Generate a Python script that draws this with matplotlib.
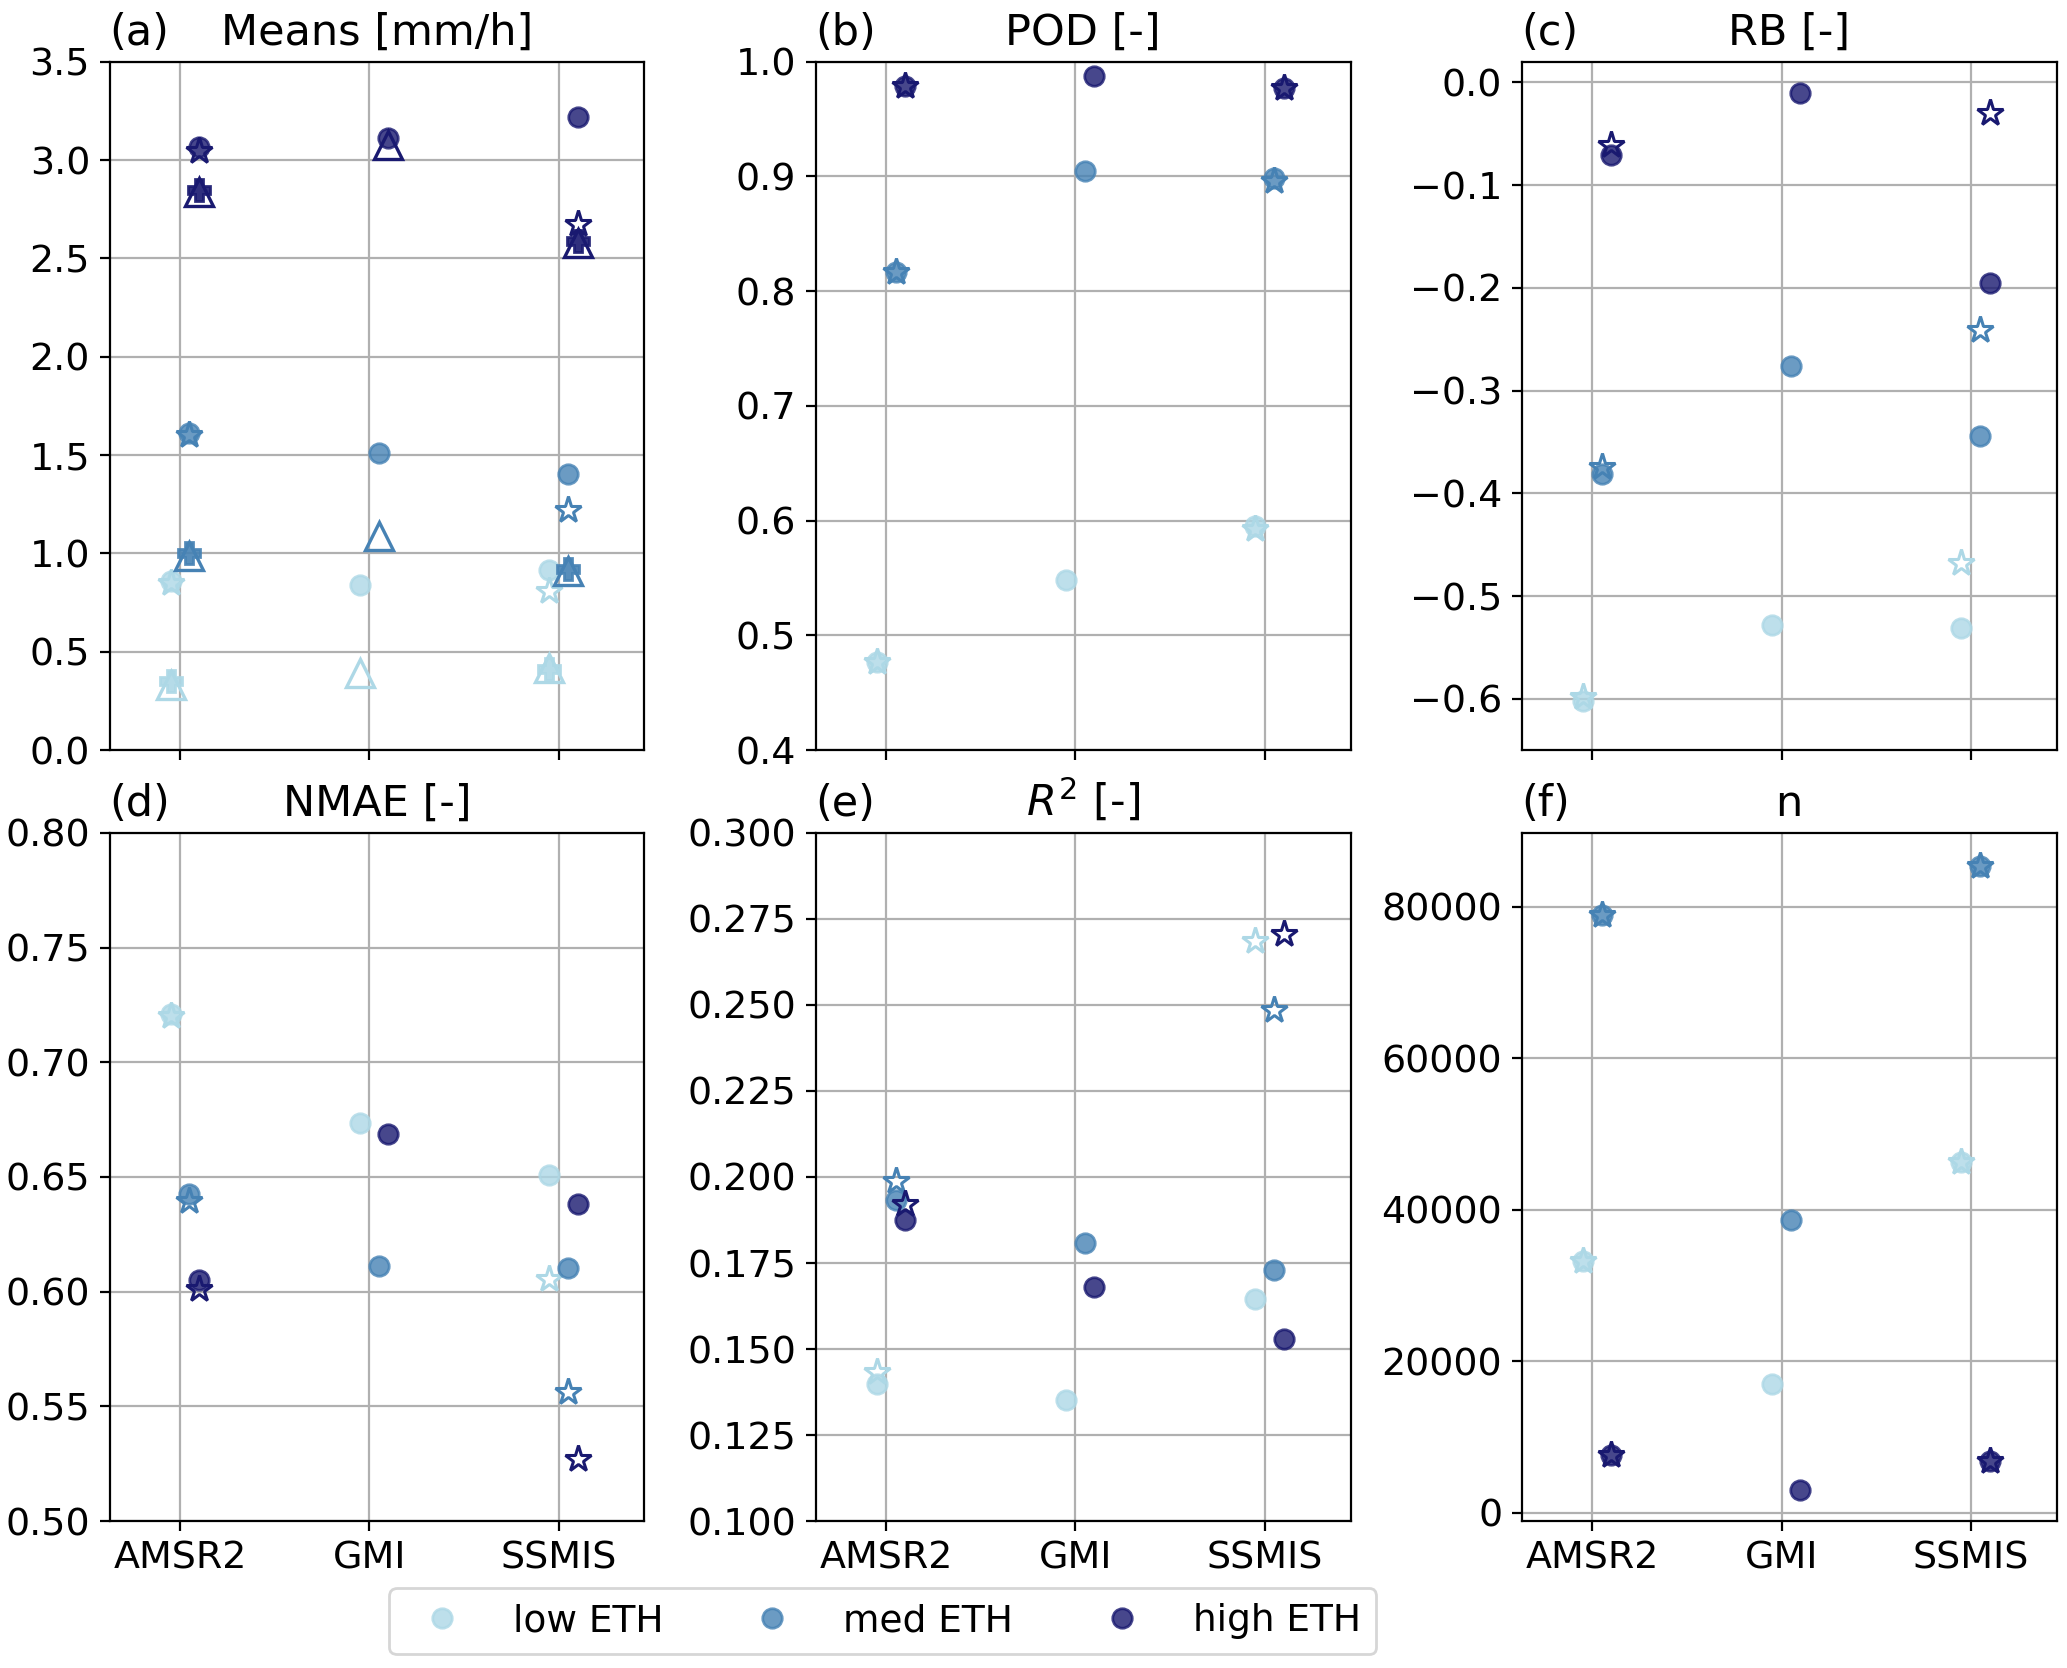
import numpy as np
import matplotlib.pyplot as plt

# sensors and ETH classes
sensors = ["AMSR2", "GMI", "SSMIS"]
eth_classes = ["low ETH", "med ETH", "high ETH"]
colors = ["lightblue", "steelblue", "midnightblue"]
offsets = [-0.05, 0.05, 0.10]

# values per ETH class (rows: low, med, high; cols: AMSR2, GMI, SSMIS)
# circles = product 1, stars = product 2 (no GMI), nan = not available
nan = np.nan
mean_circ = [[0.86, 0.84, 0.917], [1.61, 1.51, 1.405], [3.064, 3.11, 3.22]]
mean_star = [[0.85, nan, 0.81], [1.60, nan, 1.22], [3.046, nan, 2.675]]
mean_ref_circ = [[0.333, 0.39, 0.42], [0.987, 1.09, 0.91], [2.836, 3.077, 2.576]]
mean_ref_star = [[0.35, nan, 0.415], [1.00, nan, 0.92], [2.85, nan, 2.59]]

pod_circ = [[0.477, 0.548, 0.5955], [0.817, 0.9045, 0.899], [0.979, 0.9877, 0.977]]
pod_star = [[0.477, nan, 0.593], [0.817, nan, 0.896], [0.979, nan, 0.977]]

rb_circ = [[-0.602, -0.528, -0.531], [-0.381, -0.276, -0.344], [-0.071, -0.0106, -0.195]]
rb_star = [[-0.598, nan, -0.468], [-0.374, nan, -0.241], [-0.061, nan, -0.030]]

nmae_circ = [[0.721, 0.6737, 0.651], [0.6427, 0.611, 0.6103], [0.605, 0.6686, 0.6383]]
nmae_star = [[0.720, nan, 0.6054], [0.6394, nan, 0.5565], [0.601, nan, 0.5271]]

r2_circ = [[0.1399, 0.1351, 0.1647], [0.1932, 0.1807, 0.1729], [0.1874, 0.1679, 0.1529]]
r2_star = [[0.1433, nan, 0.2687], [0.1988, nan, 0.2484], [0.1921, nan, 0.2707]]

n_circ = [[33200, 16970, 46260], [79000, 38590, 85390], [7600, 3030, 6870]]
n_star = [[33200, nan, 46260], [79000, nan, 85390], [7600, nan, 6870]]

panels = [
    ("(a)", "Means [mm/h]", mean_circ, mean_star, (0, 3.5)),
    ("(b)", "POD [-]", pod_circ, pod_star, (0.4, 1.0)),
    ("(c)", "RB [-]", rb_circ, rb_star, (-0.65, 0.02)),
    ("(d)", "NMAE [-]", nmae_circ, nmae_star, (0.5, 0.8)),
    ("(e)", "$R^2$ [-]", r2_circ, r2_star, (0.1, 0.3)),
    ("(f)", "n", n_circ, n_star, (-1150, 89800)),
]

plt.rcParams['font.size'] = 13.7

fig, axes = plt.subplots(2, 3, figsize=(10.335, 8.34), dpi=200)
fig.subplots_adjust(left=0.053, right=0.995, top=0.963, bottom=0.088,
                    wspace=0.32, hspace=0.12)

x = np.arange(len(sensors))
for ax, (lab, title, circ, star, ylim) in zip(axes.flat, panels):
    ax.grid(True, zorder=0)
    ax.set_axisbelow(True)
    for i in range(3):
        xx = x + offsets[i]
        ax.plot(xx, circ[i], 'o', color=colors[i], alpha=0.8, ms=7,
                ls='none', label=eth_classes[i])
        ax.plot(xx, star[i], '*', mfc='none', mec=colors[i], mew=1.1,
                ms=10, ls='none')
        if lab == "(a)":
            ax.plot(xx, mean_ref_circ[i], '^', mfc='none', mec=colors[i],
                    mew=1.2, ms=10, ls='none')
            ax.plot(xx, mean_ref_star[i], 'P', color=colors[i], alpha=0.9,
                    ms=8, ls='none')
    ax.set_xticks(x)
    ax.set_xticklabels(sensors)
    ax.set_xlim(-0.372, 2.453)
    ax.set_ylim(*ylim)
    ax.set_title(lab, loc='left', fontsize=15.5)
    ax.set_title(title, fontsize=15.5)

for ax in axes[0]:
    ax.tick_params(labelbottom=False)

handles, labels = axes[0, 0].get_legend_handles_labels()
fig.legend(handles, labels, loc='center', ncol=3, bbox_to_anchor=(0.427, 0.028),
           columnspacing=1.9, handletextpad=0.9, fontsize=13.5)

fig.savefig("out.png")
